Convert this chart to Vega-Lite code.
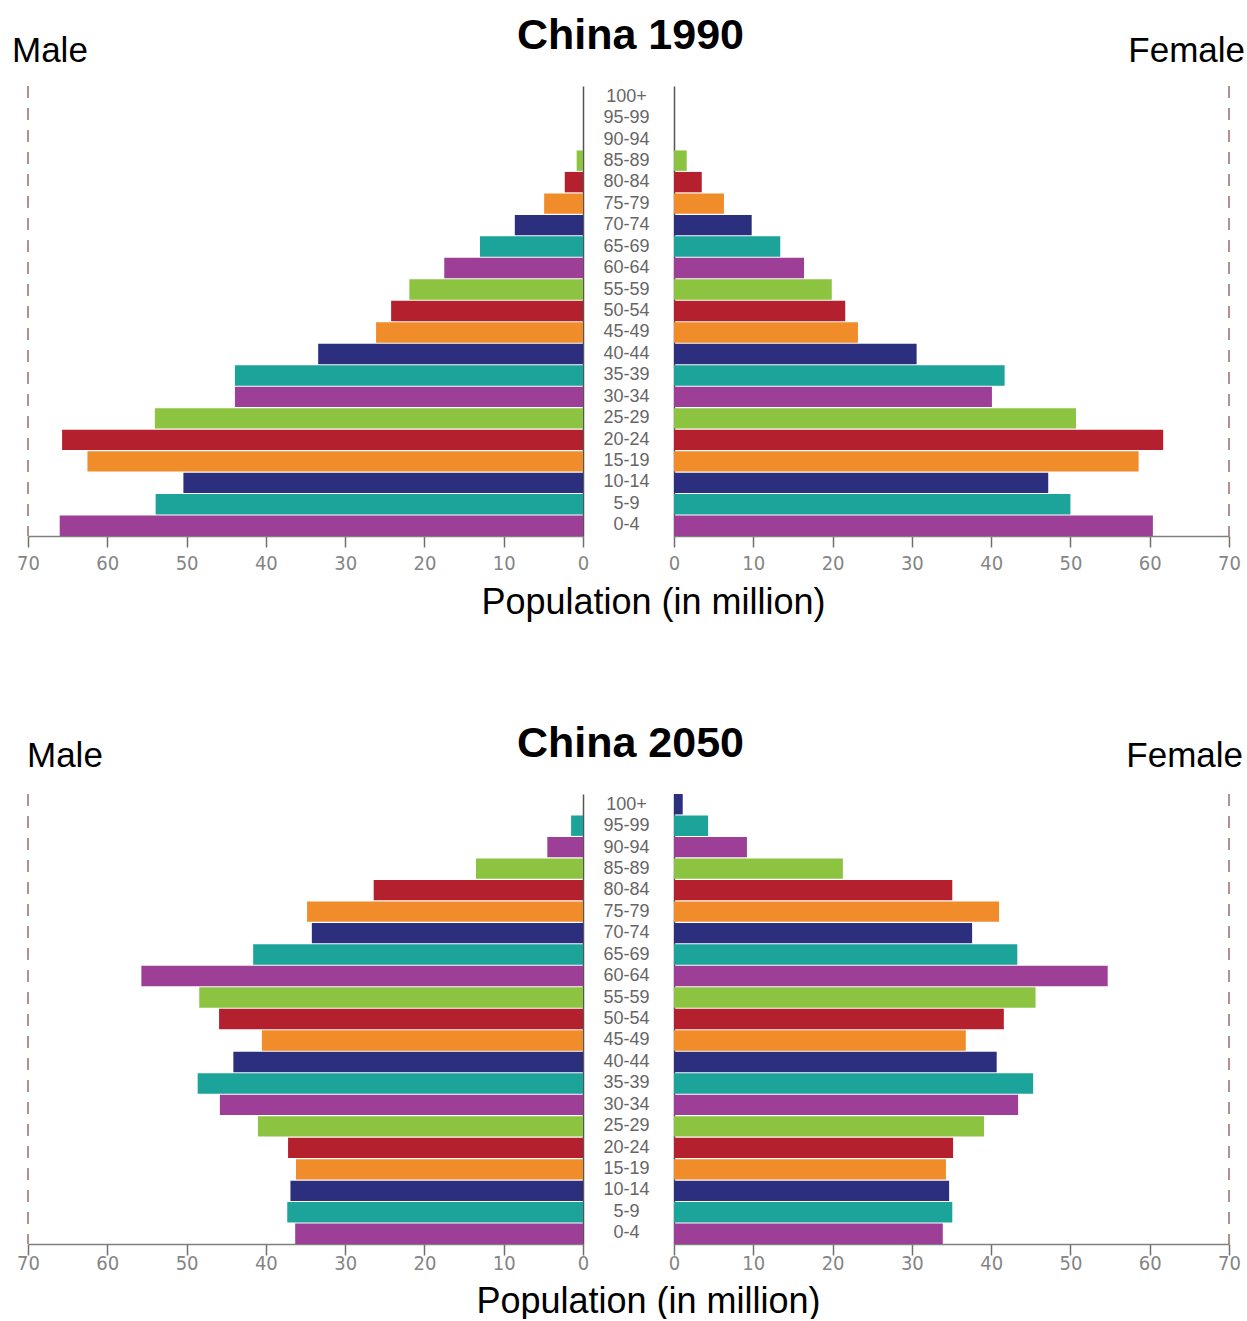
{
  "$schema": "https://vega.github.io/schema/vega-lite/v6.json",
  "padding": {"left": 12, "top": 15, "right": 0, "bottom": 0},
  "background": "white",
  "bounds": "flush",
  "spacing": 708,
  "config": {
    "view": {"stroke": null},
    "axis": {"grid": false},
    "title": {"font": "Liberation Sans", "color": "#000000"}
  },
  "data": {"values": [
    {"year": 1990, "sex": "Male", "age": "0-4", "pop": 66.0},
    {"year": 1990, "sex": "Male", "age": "5-9", "pop": 53.9},
    {"year": 1990, "sex": "Male", "age": "10-14", "pop": 50.4},
    {"year": 1990, "sex": "Male", "age": "15-19", "pop": 62.5},
    {"year": 1990, "sex": "Male", "age": "20-24", "pop": 65.7},
    {"year": 1990, "sex": "Male", "age": "25-29", "pop": 54.0},
    {"year": 1990, "sex": "Male", "age": "30-34", "pop": 43.9},
    {"year": 1990, "sex": "Male", "age": "35-39", "pop": 43.9},
    {"year": 1990, "sex": "Male", "age": "40-44", "pop": 33.4},
    {"year": 1990, "sex": "Male", "age": "45-49", "pop": 26.1},
    {"year": 1990, "sex": "Male", "age": "50-54", "pop": 24.2},
    {"year": 1990, "sex": "Male", "age": "55-59", "pop": 21.9},
    {"year": 1990, "sex": "Male", "age": "60-64", "pop": 17.5},
    {"year": 1990, "sex": "Male", "age": "65-69", "pop": 13.0},
    {"year": 1990, "sex": "Male", "age": "70-74", "pop": 8.6},
    {"year": 1990, "sex": "Male", "age": "75-79", "pop": 4.9},
    {"year": 1990, "sex": "Male", "age": "80-84", "pop": 2.3},
    {"year": 1990, "sex": "Male", "age": "85-89", "pop": 0.8},
    {"year": 1990, "sex": "Male", "age": "90-94", "pop": 0},
    {"year": 1990, "sex": "Male", "age": "95-99", "pop": 0},
    {"year": 1990, "sex": "Male", "age": "100+", "pop": 0},
    {"year": 1990, "sex": "Female", "age": "0-4", "pop": 60.4},
    {"year": 1990, "sex": "Female", "age": "5-9", "pop": 50.0},
    {"year": 1990, "sex": "Female", "age": "10-14", "pop": 47.2},
    {"year": 1990, "sex": "Female", "age": "15-19", "pop": 58.6},
    {"year": 1990, "sex": "Female", "age": "20-24", "pop": 61.7},
    {"year": 1990, "sex": "Female", "age": "25-29", "pop": 50.7},
    {"year": 1990, "sex": "Female", "age": "30-34", "pop": 40.1},
    {"year": 1990, "sex": "Female", "age": "35-39", "pop": 41.7},
    {"year": 1990, "sex": "Female", "age": "40-44", "pop": 30.6},
    {"year": 1990, "sex": "Female", "age": "45-49", "pop": 23.2},
    {"year": 1990, "sex": "Female", "age": "50-54", "pop": 21.6},
    {"year": 1990, "sex": "Female", "age": "55-59", "pop": 19.9},
    {"year": 1990, "sex": "Female", "age": "60-64", "pop": 16.4},
    {"year": 1990, "sex": "Female", "age": "65-69", "pop": 13.4},
    {"year": 1990, "sex": "Female", "age": "70-74", "pop": 9.8},
    {"year": 1990, "sex": "Female", "age": "75-79", "pop": 6.3},
    {"year": 1990, "sex": "Female", "age": "80-84", "pop": 3.5},
    {"year": 1990, "sex": "Female", "age": "85-89", "pop": 1.6},
    {"year": 1990, "sex": "Female", "age": "90-94", "pop": 0},
    {"year": 1990, "sex": "Female", "age": "95-99", "pop": 0},
    {"year": 1990, "sex": "Female", "age": "100+", "pop": 0},
    {"year": 2050, "sex": "Male", "age": "0-4", "pop": 36.3},
    {"year": 2050, "sex": "Male", "age": "5-9", "pop": 37.3},
    {"year": 2050, "sex": "Male", "age": "10-14", "pop": 36.9},
    {"year": 2050, "sex": "Male", "age": "15-19", "pop": 36.2},
    {"year": 2050, "sex": "Male", "age": "20-24", "pop": 37.2},
    {"year": 2050, "sex": "Male", "age": "25-29", "pop": 41.0},
    {"year": 2050, "sex": "Male", "age": "30-34", "pop": 45.8},
    {"year": 2050, "sex": "Male", "age": "35-39", "pop": 48.6},
    {"year": 2050, "sex": "Male", "age": "40-44", "pop": 44.1},
    {"year": 2050, "sex": "Male", "age": "45-49", "pop": 40.5},
    {"year": 2050, "sex": "Male", "age": "50-54", "pop": 45.9},
    {"year": 2050, "sex": "Male", "age": "55-59", "pop": 48.4},
    {"year": 2050, "sex": "Male", "age": "60-64", "pop": 55.7},
    {"year": 2050, "sex": "Male", "age": "65-69", "pop": 41.6},
    {"year": 2050, "sex": "Male", "age": "70-74", "pop": 34.2},
    {"year": 2050, "sex": "Male", "age": "75-79", "pop": 34.8},
    {"year": 2050, "sex": "Male", "age": "80-84", "pop": 26.4},
    {"year": 2050, "sex": "Male", "age": "85-89", "pop": 13.5},
    {"year": 2050, "sex": "Male", "age": "90-94", "pop": 4.5},
    {"year": 2050, "sex": "Male", "age": "95-99", "pop": 1.5},
    {"year": 2050, "sex": "Male", "age": "100+", "pop": 0},
    {"year": 2050, "sex": "Female", "age": "0-4", "pop": 33.9},
    {"year": 2050, "sex": "Female", "age": "5-9", "pop": 35.1},
    {"year": 2050, "sex": "Female", "age": "10-14", "pop": 34.7},
    {"year": 2050, "sex": "Female", "age": "15-19", "pop": 34.3},
    {"year": 2050, "sex": "Female", "age": "20-24", "pop": 35.2},
    {"year": 2050, "sex": "Female", "age": "25-29", "pop": 39.1},
    {"year": 2050, "sex": "Female", "age": "30-34", "pop": 43.4},
    {"year": 2050, "sex": "Female", "age": "35-39", "pop": 45.3},
    {"year": 2050, "sex": "Female", "age": "40-44", "pop": 40.7},
    {"year": 2050, "sex": "Female", "age": "45-49", "pop": 36.8},
    {"year": 2050, "sex": "Female", "age": "50-54", "pop": 41.6},
    {"year": 2050, "sex": "Female", "age": "55-59", "pop": 45.6},
    {"year": 2050, "sex": "Female", "age": "60-64", "pop": 54.7},
    {"year": 2050, "sex": "Female", "age": "65-69", "pop": 43.3},
    {"year": 2050, "sex": "Female", "age": "70-74", "pop": 37.6},
    {"year": 2050, "sex": "Female", "age": "75-79", "pop": 41.0},
    {"year": 2050, "sex": "Female", "age": "80-84", "pop": 35.1},
    {"year": 2050, "sex": "Female", "age": "85-89", "pop": 21.3},
    {"year": 2050, "sex": "Female", "age": "90-94", "pop": 9.2},
    {"year": 2050, "sex": "Female", "age": "95-99", "pop": 4.3},
    {"year": 2050, "sex": "Female", "age": "100+", "pop": 1.1}
  ]},
  "vconcat": [
    {
      "hconcat": [
        {
          "width": 555, "height": 450,
          "title": {"text": "Male", "anchor": "start", "frame": "group", "fontSize": 35, "fontWeight": "normal", "dx": -16, "offset": -12, "baseline": "alphabetic"},
          "layer": [
            {
              "transform": [{"filter": "datum.year == 1990 && datum.sex == 'Male'"}],
              "mark": {"type": "bar"},
              "encoding": {
                "y": {"field": "age", "type": "nominal", "scale": {"domain": ["100+", "95-99", "90-94", "85-89", "80-84", "75-79", "70-74", "65-69", "60-64", "55-59", "50-54", "45-49", "40-44", "35-39", "30-34", "25-29", "20-24", "15-19", "10-14", "5-9", "0-4"], "paddingInner": 0.05, "paddingOuter": 0}, "axis": {"orient": "right", "labels": false, "ticks": false, "title": null, "domainColor": "#555555", "domainWidth": 1.5}},
                "x": {"field": "pop", "type": "quantitative", "scale": {"domain": [0, 70], "reverse": true, "nice": false}, "axis": {"values": [0, 10, 20, 30, 40, 50, 60, 70], "title": null, "labelFlush": false, "labelOverlap": false, "labelFont": "'DejaVu Sans Condensed', 'Liberation Sans Narrow', sans-serif", "labelFontSize": 20, "labelColor": "#858585", "labelPadding": 6, "tickSize": 11, "tickWidth": 1.5, "tickColor": "#707070", "domainColor": "#808080", "domainWidth": 1.5}},
                "color": {"field": "age", "type": "nominal", "scale": {"domain": ["100+", "95-99", "90-94", "85-89", "80-84", "75-79", "70-74", "65-69", "60-64", "55-59", "50-54", "45-49", "40-44", "35-39", "30-34", "25-29", "20-24", "15-19", "10-14", "5-9", "0-4"], "range": ["#2c2e7e", "#1ca39a", "#9e3f97", "#8cc441", "#b5202e", "#f08c2a", "#2c2e7e", "#1ca39a", "#9e3f97", "#8cc441", "#b5202e", "#f08c2a", "#2c2e7e", "#1ca39a", "#9e3f97", "#8cc441", "#b5202e", "#f08c2a", "#2c2e7e", "#1ca39a", "#9e3f97"]}, "legend": null}
              }
            },
            {
              "data": {"values": [{}]},
              "mark": {"type": "rule", "strokeDash": [12, 10], "color": "#9b6b6b", "strokeWidth": 1.5},
              "encoding": {"x": {"datum": 70}}
            }
          ]
        },
        {
          "width": 91, "height": 450,
          "title": {"text": "China 1990", "anchor": "middle", "fontSize": 43, "fontWeight": "bold", "offset": -6, "baseline": "alphabetic", "dx": 2},
          "transform": [{"filter": "datum.year == 1990 && datum.sex == 'Male'"}],
          "mark": {"type": "text", "font": "Liberation Sans", "fontSize": 18, "color": "#666666", "dx": -2},
          "encoding": {
            "y": {"field": "age", "type": "nominal", "scale": {"domain": ["100+", "95-99", "90-94", "85-89", "80-84", "75-79", "70-74", "65-69", "60-64", "55-59", "50-54", "45-49", "40-44", "35-39", "30-34", "25-29", "20-24", "15-19", "10-14", "5-9", "0-4"], "paddingInner": 0.05, "paddingOuter": 0}, "axis": null},
            "x": {"datum": 0, "type": "quantitative", "scale": {"domain": [-1, 1]}, "axis": {"title": "Population (in million)", "labels": false, "ticks": false, "domain": false, "titleFontSize": 36, "titleFont": "Liberation Sans", "titleFontWeight": "normal", "titleColor": "#000000", "titleX": 70, "titleBaseline": "alphabetic", "titlePadding": 77}},
            "text": {"field": "age"}
          }
        },
        {
          "width": 555, "height": 450,
          "title": {"text": "Female", "anchor": "end", "frame": "group", "fontSize": 35, "fontWeight": "normal", "dx": 16, "offset": -12, "baseline": "alphabetic"},
          "layer": [
            {
              "transform": [{"filter": "datum.year == 1990 && datum.sex == 'Female'"}],
              "mark": {"type": "bar"},
              "encoding": {
                "y": {"field": "age", "type": "nominal", "scale": {"domain": ["100+", "95-99", "90-94", "85-89", "80-84", "75-79", "70-74", "65-69", "60-64", "55-59", "50-54", "45-49", "40-44", "35-39", "30-34", "25-29", "20-24", "15-19", "10-14", "5-9", "0-4"], "paddingInner": 0.05, "paddingOuter": 0}, "axis": {"orient": "left", "labels": false, "ticks": false, "title": null, "domainColor": "#555555", "domainWidth": 1.5}},
                "x": {"field": "pop", "type": "quantitative", "scale": {"domain": [0, 70], "nice": false}, "axis": {"values": [0, 10, 20, 30, 40, 50, 60, 70], "title": null, "labelFlush": false, "labelOverlap": false, "labelFont": "'DejaVu Sans Condensed', 'Liberation Sans Narrow', sans-serif", "labelFontSize": 20, "labelColor": "#858585", "labelPadding": 6, "tickSize": 11, "tickWidth": 1.5, "tickColor": "#707070", "domainColor": "#808080", "domainWidth": 1.5}},
                "color": {"field": "age", "type": "nominal", "scale": {"domain": ["100+", "95-99", "90-94", "85-89", "80-84", "75-79", "70-74", "65-69", "60-64", "55-59", "50-54", "45-49", "40-44", "35-39", "30-34", "25-29", "20-24", "15-19", "10-14", "5-9", "0-4"], "range": ["#2c2e7e", "#1ca39a", "#9e3f97", "#8cc441", "#b5202e", "#f08c2a", "#2c2e7e", "#1ca39a", "#9e3f97", "#8cc441", "#b5202e", "#f08c2a", "#2c2e7e", "#1ca39a", "#9e3f97", "#8cc441", "#b5202e", "#f08c2a", "#2c2e7e", "#1ca39a", "#9e3f97"]}, "legend": null}
              }
            },
            {
              "data": {"values": [{}]},
              "mark": {"type": "rule", "strokeDash": [12, 10], "color": "#9b6b6b", "strokeWidth": 1.5},
              "encoding": {"x": {"datum": 70}}
            }
          ]
        }
      ],
      "spacing": 0,
      "bounds": "flush"
    },
    {
      "hconcat": [
        {
          "width": 555, "height": 450,
          "title": {"text": "Male", "anchor": "start", "frame": "group", "fontSize": 35, "fontWeight": "normal", "dx": -1, "offset": -9, "baseline": "alphabetic"},
          "layer": [
            {
              "transform": [{"filter": "datum.year == 2050 && datum.sex == 'Male'"}],
              "mark": {"type": "bar"},
              "encoding": {
                "y": {"field": "age", "type": "nominal", "scale": {"domain": ["100+", "95-99", "90-94", "85-89", "80-84", "75-79", "70-74", "65-69", "60-64", "55-59", "50-54", "45-49", "40-44", "35-39", "30-34", "25-29", "20-24", "15-19", "10-14", "5-9", "0-4"], "paddingInner": 0.05, "paddingOuter": 0}, "axis": {"orient": "right", "labels": false, "ticks": false, "title": null, "domainColor": "#555555", "domainWidth": 1.5}},
                "x": {"field": "pop", "type": "quantitative", "scale": {"domain": [0, 70], "reverse": true, "nice": false}, "axis": {"values": [0, 10, 20, 30, 40, 50, 60, 70], "title": null, "labelFlush": false, "labelOverlap": false, "labelFont": "'DejaVu Sans Condensed', 'Liberation Sans Narrow', sans-serif", "labelFontSize": 20, "labelColor": "#858585", "labelPadding": -2, "tickSize": 11, "tickWidth": 1.5, "tickColor": "#707070", "domainColor": "#808080", "domainWidth": 1.5}},
                "color": {"field": "age", "type": "nominal", "scale": {"domain": ["100+", "95-99", "90-94", "85-89", "80-84", "75-79", "70-74", "65-69", "60-64", "55-59", "50-54", "45-49", "40-44", "35-39", "30-34", "25-29", "20-24", "15-19", "10-14", "5-9", "0-4"], "range": ["#2c2e7e", "#1ca39a", "#9e3f97", "#8cc441", "#b5202e", "#f08c2a", "#2c2e7e", "#1ca39a", "#9e3f97", "#8cc441", "#b5202e", "#f08c2a", "#2c2e7e", "#1ca39a", "#9e3f97", "#8cc441", "#b5202e", "#f08c2a", "#2c2e7e", "#1ca39a", "#9e3f97"]}, "legend": null}
              }
            },
            {
              "data": {"values": [{}]},
              "mark": {"type": "rule", "strokeDash": [12, 10], "color": "#9b6b6b", "strokeWidth": 1.5},
              "encoding": {"x": {"datum": 70}}
            }
          ]
        },
        {
          "width": 91, "height": 450,
          "title": {"text": "China 2050", "anchor": "middle", "fontSize": 43, "fontWeight": "bold", "offset": -6, "baseline": "alphabetic", "dx": 2},
          "transform": [{"filter": "datum.year == 2050 && datum.sex == 'Male'"}],
          "mark": {"type": "text", "font": "Liberation Sans", "fontSize": 18, "color": "#666666", "dx": -2},
          "encoding": {
            "y": {"field": "age", "type": "nominal", "scale": {"domain": ["100+", "95-99", "90-94", "85-89", "80-84", "75-79", "70-74", "65-69", "60-64", "55-59", "50-54", "45-49", "40-44", "35-39", "30-34", "25-29", "20-24", "15-19", "10-14", "5-9", "0-4"], "paddingInner": 0.05, "paddingOuter": 0}, "axis": null},
            "x": {"datum": 0, "type": "quantitative", "scale": {"domain": [-1, 1]}, "axis": {"title": "Population (in million)", "labels": false, "ticks": false, "domain": false, "titleFontSize": 36, "titleFont": "Liberation Sans", "titleFontWeight": "normal", "titleColor": "#000000", "titleX": 65, "titleBaseline": "alphabetic", "titlePadding": 68}},
            "text": {"field": "age"}
          }
        },
        {
          "width": 555, "height": 450,
          "title": {"text": "Female", "anchor": "end", "frame": "group", "fontSize": 35, "fontWeight": "normal", "dx": 14, "offset": -9, "baseline": "alphabetic"},
          "layer": [
            {
              "transform": [{"filter": "datum.year == 2050 && datum.sex == 'Female'"}],
              "mark": {"type": "bar"},
              "encoding": {
                "y": {"field": "age", "type": "nominal", "scale": {"domain": ["100+", "95-99", "90-94", "85-89", "80-84", "75-79", "70-74", "65-69", "60-64", "55-59", "50-54", "45-49", "40-44", "35-39", "30-34", "25-29", "20-24", "15-19", "10-14", "5-9", "0-4"], "paddingInner": 0.05, "paddingOuter": 0}, "axis": {"orient": "left", "labels": false, "ticks": false, "title": null, "domainColor": "#555555", "domainWidth": 1.5}},
                "x": {"field": "pop", "type": "quantitative", "scale": {"domain": [0, 70], "nice": false}, "axis": {"values": [0, 10, 20, 30, 40, 50, 60, 70], "title": null, "labelFlush": false, "labelOverlap": false, "labelFont": "'DejaVu Sans Condensed', 'Liberation Sans Narrow', sans-serif", "labelFontSize": 20, "labelColor": "#858585", "labelPadding": -2, "tickSize": 11, "tickWidth": 1.5, "tickColor": "#707070", "domainColor": "#808080", "domainWidth": 1.5}},
                "color": {"field": "age", "type": "nominal", "scale": {"domain": ["100+", "95-99", "90-94", "85-89", "80-84", "75-79", "70-74", "65-69", "60-64", "55-59", "50-54", "45-49", "40-44", "35-39", "30-34", "25-29", "20-24", "15-19", "10-14", "5-9", "0-4"], "range": ["#2c2e7e", "#1ca39a", "#9e3f97", "#8cc441", "#b5202e", "#f08c2a", "#2c2e7e", "#1ca39a", "#9e3f97", "#8cc441", "#b5202e", "#f08c2a", "#2c2e7e", "#1ca39a", "#9e3f97", "#8cc441", "#b5202e", "#f08c2a", "#2c2e7e", "#1ca39a", "#9e3f97"]}, "legend": null}
              }
            },
            {
              "data": {"values": [{}]},
              "mark": {"type": "rule", "strokeDash": [12, 10], "color": "#9b6b6b", "strokeWidth": 1.5},
              "encoding": {"x": {"datum": 70}}
            }
          ]
        }
      ],
      "spacing": 0,
      "bounds": "flush"
    }
  ]
}
